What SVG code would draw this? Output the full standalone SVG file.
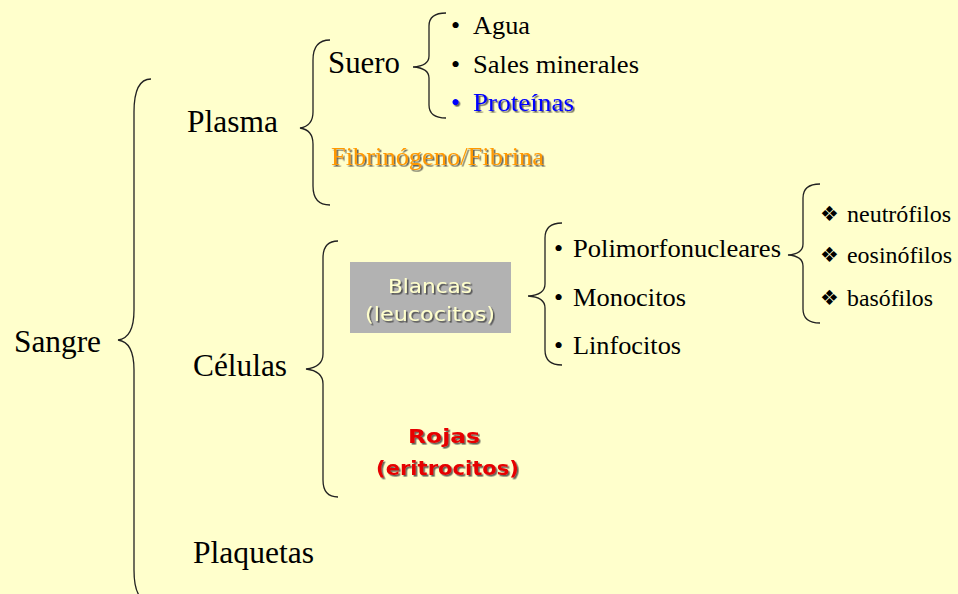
<svg xmlns="http://www.w3.org/2000/svg" width="958" height="594" viewBox="0 0 958 594">
  <defs>
    <filter id="sh" x="-10%" y="-20%" width="130%" height="150%">
      <feDropShadow dx="1.6" dy="1.6" stdDeviation="0.3" flood-color="#333333" flood-opacity="0.75"/>
    </filter>
  </defs>
  <style>
    .br { fill: none; stroke: #222; stroke-width: 1.3; }
  </style>
  <rect width="958" height="594" fill="#FFFFCC"/>

  <g id="connectors">
    <path class="br" d="M151,79 Q134,79 134,112 L134,310 Q134,338 118,340 Q134,342 134,370 L134,570 Q134,602 151,602"/>
    <path class="br" d="M330,40 Q313,40 313,60 L313,112 Q313,126 300,128 Q313,130 313,144 L313,186 Q313,205 330,205"/>
    <path class="br" d="M446,13 Q429,13 429,26 L429,56 Q429,66 413,67 Q429,68 429,78 L429,105 Q429,118 446,118"/>
    <path class="br" d="M338,241 Q323,241 323,258 L323,354 Q323,367 306,369 Q323,371 323,384 L323,480 Q323,497 338,497"/>
    <path class="br" d="M562,223 Q545,223 545,238 L545,284 Q545,295 528,296 Q545,297 545,308 L545,350 Q545,365 562,365"/>
    <path class="br" d="M820,184 Q803,184 803,198 L803,244 Q803,254 788,255 Q803,256 803,266 L803,309 Q803,323 820,323"/>
  </g>

  <g font-family="'Liberation Serif', 'Times New Roman', serif" fill="#000000">
    <g font-size="31">
      <g id="sangre"><text x="14" y="352" textLength="87" lengthAdjust="spacingAndGlyphs">Sangre</text></g>
      <g id="plasma"><text x="187" y="132" textLength="91" lengthAdjust="spacingAndGlyphs">Plasma</text></g>
      <g id="celulas"><text x="193" y="376" textLength="94" lengthAdjust="spacingAndGlyphs">Células</text></g>
      <g id="plaquetas"><text x="193" y="563" textLength="121" lengthAdjust="spacingAndGlyphs">Plaquetas</text></g>
      <g id="suero"><text x="328" y="73" textLength="72" lengthAdjust="spacingAndGlyphs">Suero</text></g>
    </g>

    <g font-size="26">
      <g id="agua">
        <text x="451" y="34">•</text>
        <text x="473" y="34" textLength="57" lengthAdjust="spacingAndGlyphs">Agua</text>
      </g>
      <g id="sales">
        <text x="451" y="73">•</text>
        <text x="473" y="73" textLength="166" lengthAdjust="spacingAndGlyphs">Sales minerales</text>
      </g>
      <g id="proteinas" filter="url(#sh)" fill="#0000FF">
        <text x="451" y="111">•</text>
        <text x="473" y="111" textLength="101" lengthAdjust="spacingAndGlyphs">Proteínas</text>
      </g>
      <g id="fibrinogeno" filter="url(#sh)" fill="#FF9900">
        <text x="331" y="165" textLength="213" lengthAdjust="spacingAndGlyphs">Fibrinógeno/Fibrina</text>
      </g>
      <g id="polimorfonucleares">
        <text x="554" y="257">•</text>
        <text x="573" y="257" textLength="208" lengthAdjust="spacingAndGlyphs">Polimorfonucleares</text>
      </g>
      <g id="monocitos">
        <text x="554" y="306">•</text>
        <text x="573" y="306" textLength="113" lengthAdjust="spacingAndGlyphs">Monocitos</text>
      </g>
      <g id="linfocitos">
        <text x="554" y="354">•</text>
        <text x="573" y="354" textLength="108" lengthAdjust="spacingAndGlyphs">Linfocitos</text>
      </g>
    </g>

    <g font-size="23">
      <g id="neutrofilos">
        <text x="829.5" y="221" text-anchor="middle" font-size="21" font-family="'DejaVu Sans', sans-serif">❖</text>
        <text x="847" y="222" textLength="104" lengthAdjust="spacingAndGlyphs">neutrófilos</text>
      </g>
      <g id="eosinofilos">
        <text x="829.5" y="262" text-anchor="middle" font-size="21" font-family="'DejaVu Sans', sans-serif">❖</text>
        <text x="847" y="263" textLength="105" lengthAdjust="spacingAndGlyphs">eosinófilos</text>
      </g>
      <g id="basofilos">
        <text x="829.5" y="305" text-anchor="middle" font-size="21" font-family="'DejaVu Sans', sans-serif">❖</text>
        <text x="847" y="306" textLength="86" lengthAdjust="spacingAndGlyphs">basófilos</text>
      </g>
    </g>
  </g>

  <g font-family="'DejaVu Sans', 'Liberation Sans', sans-serif" font-size="20">
    <g id="blancas">
      <rect x="350" y="262" width="161" height="71" fill="#B2B2B2"/>
      <g filter="url(#sh)" fill="#FFFFCC">
        <text x="430" y="293" text-anchor="middle" textLength="84" lengthAdjust="spacingAndGlyphs">Blancas</text>
        <text x="430" y="321" text-anchor="middle" textLength="130" lengthAdjust="spacingAndGlyphs">(leucocitos)</text>
      </g>
    </g>
    <g id="rojas" filter="url(#sh)" fill="#E60000" font-weight="bold">
      <text x="444" y="443" text-anchor="middle" textLength="72" lengthAdjust="spacingAndGlyphs">Rojas</text>
      <text x="447.5" y="475" text-anchor="middle" textLength="143" lengthAdjust="spacingAndGlyphs">(eritrocitos)</text>
    </g>
  </g>
</svg>
